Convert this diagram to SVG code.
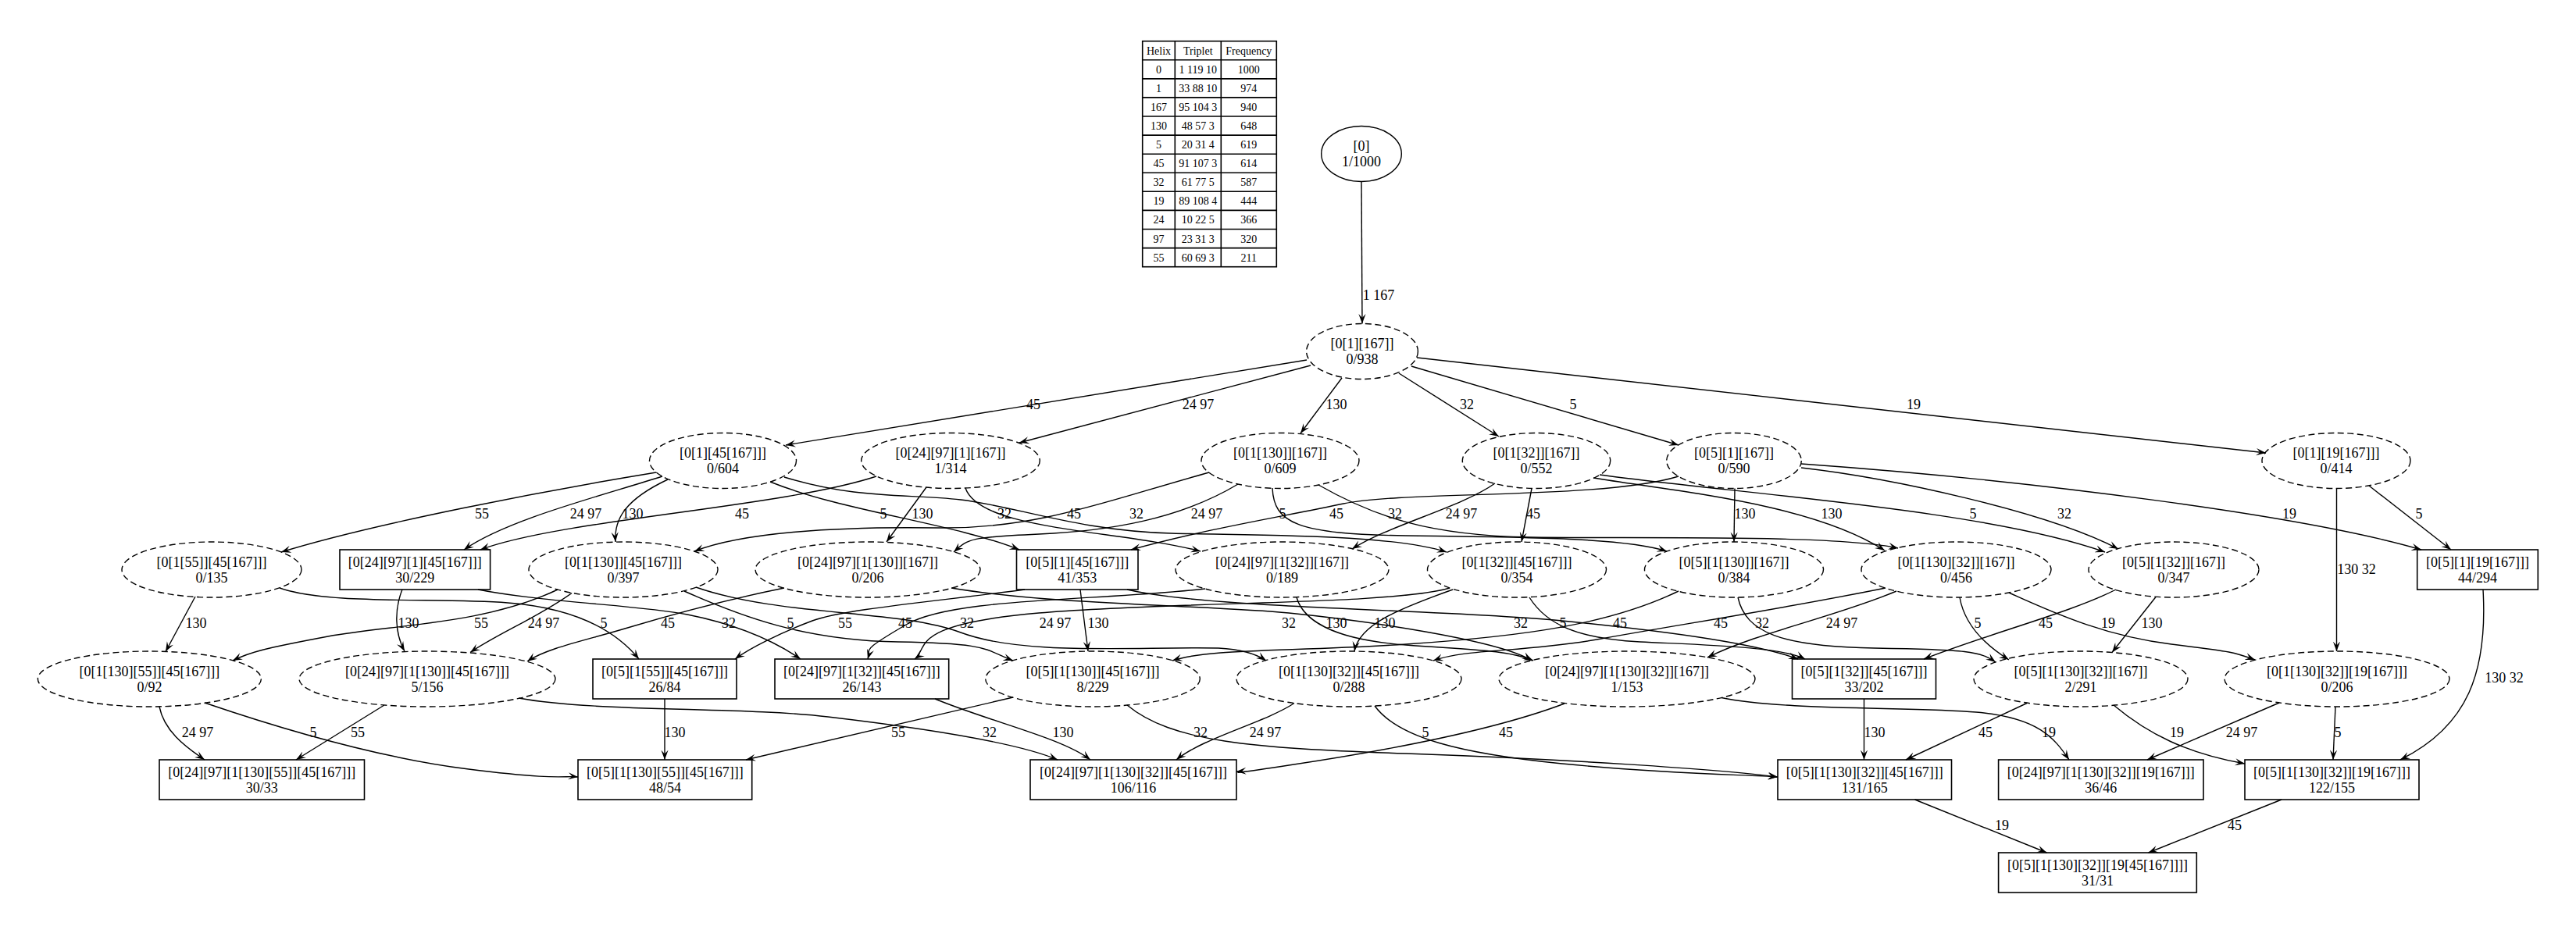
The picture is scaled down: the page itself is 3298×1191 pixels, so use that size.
<svg xmlns="http://www.w3.org/2000/svg" width="3298" height="1191" viewBox="0 0 3298 1191">
<defs>
<marker id="vee" viewBox="0 0 12.5 10" refX="12.5" refY="5" markerWidth="12.5" markerHeight="10" markerUnits="userSpaceOnUse" orient="auto">
<path d="M0,0.4 L12.5,5 L0,9.6 L5,5 Z" fill="#000"/>
</marker>
</defs>
<style>
.n{fill:none;stroke:#000;stroke-width:1.4;stroke-dasharray:8 4.5}
.s{fill:none;stroke:#000;stroke-width:1.4}
.b{fill:none;stroke:#000;stroke-width:1.6}
.g{stroke:#000;stroke-width:1.6;fill:none}
text{font-family:"Liberation Serif","Times New Roman",serif;font-size:18px;text-anchor:middle;fill:#000}
.tb text{font-size:14px}
#edges path{fill:none;stroke:#000;stroke-width:1.4;marker-end:url(#vee)}
</style>
<rect width="3298" height="1191" fill="#fff"/>

<!-- helix legend table -->
<g id="legend" class="tb">
<rect class="g" x="1462.7" y="52.7" width="171.6" height="289"/>
<path class="g" d="M1504.3,52.7V341.7M1563.3,52.7V341.7M1462.7,76.8H1634.3M1462.7,100.9H1634.3M1462.7,124.9H1634.3M1462.7,149H1634.3M1462.7,173.1H1634.3M1462.7,197.2H1634.3M1462.7,221.3H1634.3M1462.7,245.3H1634.3M1462.7,269.4H1634.3M1462.7,293.5H1634.3M1462.7,317.6H1634.3"/>
<text x="1483.5" y="69.7">Helix</text><text x="1533.8" y="69.7">Triplet</text><text x="1598.8" y="69.7">Frequency</text>
<text x="1483.5" y="93.8">0</text><text x="1533.8" y="93.8">1 119 10</text><text x="1598.8" y="93.8">1000</text>
<text x="1483.5" y="117.9">1</text><text x="1533.8" y="117.9">33 88 10</text><text x="1598.8" y="117.9">974</text>
<text x="1483.5" y="141.9">167</text><text x="1533.8" y="141.9">95 104 3</text><text x="1598.8" y="141.9">940</text>
<text x="1483.5" y="166">130</text><text x="1533.8" y="166">48 57 3</text><text x="1598.8" y="166">648</text>
<text x="1483.5" y="190.1">5</text><text x="1533.8" y="190.1">20 31 4</text><text x="1598.8" y="190.1">619</text>
<text x="1483.5" y="214.2">45</text><text x="1533.8" y="214.2">91 107 3</text><text x="1598.8" y="214.2">614</text>
<text x="1483.5" y="238.3">32</text><text x="1533.8" y="238.3">61 77 5</text><text x="1598.8" y="238.3">587</text>
<text x="1483.5" y="262.3">19</text><text x="1533.8" y="262.3">89 108 4</text><text x="1598.8" y="262.3">444</text>
<text x="1483.5" y="286.4">24</text><text x="1533.8" y="286.4">10 22 5</text><text x="1598.8" y="286.4">366</text>
<text x="1483.5" y="310.5">97</text><text x="1533.8" y="310.5">23 31 3</text><text x="1598.8" y="310.5">320</text>
<text x="1483.5" y="334.6">55</text><text x="1533.8" y="334.6">60 69 3</text><text x="1598.8" y="334.6">211</text>
</g>

<!-- nodes -->
<g id="R"><ellipse class="s" cx="1743" cy="197" rx="51.3" ry="35.5"/><text x="1743" y="193">[0]</text><text x="1743" y="213">1/1000</text></g>
<g id="A"><ellipse class="n" cx="1744" cy="450" rx="71.4" ry="35.5"/><text x="1744" y="446">[0[1][167]]</text><text x="1744" y="466">0/938</text></g>

<g id="B1"><ellipse class="n" cx="925.5" cy="590" rx="94" ry="35.5"/><text x="925.5" y="586">[0[1][45[167]]]</text><text x="925.5" y="606">0/604</text></g>
<g id="B2"><ellipse class="n" cx="1217" cy="590" rx="114.3" ry="35.5"/><text x="1217" y="586">[0[24][97][1][167]]</text><text x="1217" y="606">1/314</text></g>
<g id="B3"><ellipse class="n" cx="1639" cy="590" rx="101" ry="35.5"/><text x="1639" y="586">[0[1[130]][167]]</text><text x="1639" y="606">0/609</text></g>
<g id="B4"><ellipse class="n" cx="1967" cy="590" rx="94.7" ry="35.5"/><text x="1967" y="586">[0[1[32]][167]]</text><text x="1967" y="606">0/552</text></g>
<g id="B5"><ellipse class="n" cx="2220" cy="590" rx="86.3" ry="35.5"/><text x="2220" y="586">[0[5][1][167]]</text><text x="2220" y="606">0/590</text></g>
<g id="B6"><ellipse class="n" cx="2991" cy="590" rx="95" ry="35.5"/><text x="2991" y="586">[0[1][19[167]]]</text><text x="2991" y="606">0/414</text></g>

<g id="C1"><ellipse class="n" cx="271" cy="729.5" rx="115" ry="35.5"/><text x="271" y="725.5">[0[1[55]][45[167]]]</text><text x="271" y="745.5">0/135</text></g>
<g id="C2"><rect class="b" x="435" y="704" width="192.6" height="51"/><text x="531.3" y="725.5">[0[24][97][1][45[167]]]</text><text x="531.3" y="745.5">30/229</text></g>
<g id="C3"><ellipse class="n" cx="798" cy="729.5" rx="121" ry="35.5"/><text x="798" y="725.5">[0[1[130]][45[167]]]</text><text x="798" y="745.5">0/397</text></g>
<g id="C4"><ellipse class="n" cx="1111" cy="729.5" rx="144" ry="35.5"/><text x="1111" y="725.5">[0[24][97][1[130]][167]]</text><text x="1111" y="745.5">0/206</text></g>
<g id="C5"><rect class="b" x="1301.5" y="704" width="155.5" height="51"/><text x="1379.3" y="725.5">[0[5][1][45[167]]]</text><text x="1379.3" y="745.5">41/353</text></g>
<g id="C6"><ellipse class="n" cx="1641.5" cy="729.5" rx="136.5" ry="35.5"/><text x="1641.5" y="725.5">[0[24][97][1[32]][167]]</text><text x="1641.5" y="745.5">0/189</text></g>
<g id="C7"><ellipse class="n" cx="1942" cy="729.5" rx="114.5" ry="35.5"/><text x="1942" y="725.5">[0[1[32]][45[167]]]</text><text x="1942" y="745.5">0/354</text></g>
<g id="C8"><ellipse class="n" cx="2220" cy="729.5" rx="114.5" ry="35.5"/><text x="2220" y="725.5">[0[5][1[130]][167]]</text><text x="2220" y="745.5">0/384</text></g>
<g id="C9"><ellipse class="n" cx="2504.5" cy="729.5" rx="121.5" ry="35.5"/><text x="2504.5" y="725.5">[0[1[130][32]][167]]</text><text x="2504.5" y="745.5">0/456</text></g>
<g id="C10"><ellipse class="n" cx="2783" cy="729.5" rx="109" ry="35.5"/><text x="2783" y="725.5">[0[5][1[32]][167]]</text><text x="2783" y="745.5">0/347</text></g>
<g id="C11"><rect class="b" x="3094.7" y="704" width="154.6" height="51"/><text x="3172" y="725.5">[0[5][1][19[167]]]</text><text x="3172" y="745.5">44/294</text></g>

<g id="D1"><ellipse class="n" cx="191.4" cy="869.5" rx="143" ry="35.5"/><text x="191.4" y="865.5">[0[1[130][55]][45[167]]]</text><text x="191.4" y="885.5">0/92</text></g>
<g id="D2"><ellipse class="n" cx="547" cy="869.5" rx="164" ry="35.5"/><text x="547" y="865.5">[0[24][97][1[130]][45[167]]]</text><text x="547" y="885.5">5/156</text></g>
<g id="D3"><rect class="b" x="759" y="844" width="184" height="51"/><text x="851" y="865.5">[0[5][1[55]][45[167]]]</text><text x="851" y="885.5">26/84</text></g>
<g id="D4"><rect class="b" x="992" y="844" width="222.7" height="51"/><text x="1103.4" y="865.5">[0[24][97][1[32]][45[167]]]</text><text x="1103.4" y="885.5">26/143</text></g>
<g id="D5"><ellipse class="n" cx="1399" cy="869.5" rx="137.3" ry="35.5"/><text x="1399" y="865.5">[0[5][1[130]][45[167]]]</text><text x="1399" y="885.5">8/229</text></g>
<g id="D6"><ellipse class="n" cx="1727" cy="869.5" rx="144" ry="35.5"/><text x="1727" y="865.5">[0[1[130][32]][45[167]]]</text><text x="1727" y="885.5">0/288</text></g>
<g id="D7"><ellipse class="n" cx="2083" cy="869.5" rx="164" ry="35.5"/><text x="2083" y="865.5">[0[24][97][1[130][32]][167]]</text><text x="2083" y="885.5">1/153</text></g>
<g id="D8"><rect class="b" x="2294.5" y="844" width="184" height="51"/><text x="2386.5" y="865.5">[0[5][1[32]][45[167]]]</text><text x="2386.5" y="885.5">33/202</text></g>
<g id="D9"><ellipse class="n" cx="2664" cy="869.5" rx="137" ry="35.5"/><text x="2664" y="865.5">[0[5][1[130][32]][167]]</text><text x="2664" y="885.5">2/291</text></g>
<g id="D10"><ellipse class="n" cx="2992" cy="869.5" rx="144" ry="35.5"/><text x="2992" y="865.5">[0[1[130][32]][19[167]]]</text><text x="2992" y="885.5">0/206</text></g>

<g id="E1"><rect class="b" x="204" y="973" width="262.5" height="51"/><text x="335.3" y="994.5">[0[24][97][1[130][55]][45[167]]]</text><text x="335.3" y="1014.5">30/33</text></g>
<g id="E2"><rect class="b" x="740" y="973" width="222.7" height="51"/><text x="851.4" y="994.5">[0[5][1[130][55]][45[167]]]</text><text x="851.4" y="1014.5">48/54</text></g>
<g id="E3"><rect class="b" x="1319" y="973" width="264" height="51"/><text x="1451" y="994.5">[0[24][97][1[130][32]][45[167]]]</text><text x="1451" y="1014.5">106/116</text></g>
<g id="E4"><rect class="b" x="2276" y="973" width="222.5" height="51"/><text x="2387.3" y="994.5">[0[5][1[130][32]][45[167]]]</text><text x="2387.3" y="1014.5">131/165</text></g>
<g id="E5"><rect class="b" x="2558.6" y="973" width="262.4" height="51"/><text x="2689.8" y="994.5">[0[24][97][1[130][32]][19[167]]]</text><text x="2689.8" y="1014.5">36/46</text></g>
<g id="E6"><rect class="b" x="2874" y="973" width="223" height="51"/><text x="2985.5" y="994.5">[0[5][1[130][32]][19[167]]]</text><text x="2985.5" y="1014.5">122/155</text></g>

<g id="F1"><rect class="b" x="2558.6" y="1092" width="253.7" height="51"/><text x="2685.5" y="1113.5">[0[5][1[130][32]][19[45[167]]]]</text><text x="2685.5" y="1133.5">31/31</text></g>

<!-- connectors, labelled with the helices each step adds -->
<g id="edges">
<path d="M1743,232.5 L1744,414.5"/><text x="1765" y="384">1 167</text>

<path d="M1673,461 L1006,570"/><text x="1323" y="524">45</text>
<path d="M1678,468 L1305,567"/><text x="1534" y="524">24 97</text>
<path d="M1718,484 L1665,555"/><text x="1711" y="524">130</text>
<path d="M1791,478 L1919,559"/><text x="1878" y="524">32</text>
<path d="M1807,469 L2149,570"/><text x="2014" y="524">5</text>
<path d="M1814,458 L2901,580"/><text x="2450" y="524">19</text>

<path d="M840,605 C700,628 480,670 360,707"/><text x="617" y="664">55</text>
<path d="M848,610 C770,635 650,665 594,704"/><text x="750" y="664">24 97</text>
<path d="M855,614 C800,640 786,665 788,694"/><text x="810" y="664">130</text>
<path d="M1122,610 C1000,650 720,665 615,704"/><text x="950" y="664">45</text>
<path d="M986,617 C1080,655 1220,670 1305,704"/><text x="1131" y="664">5</text>
<path d="M1186,624 L1135,694"/><text x="1181" y="664">130</text>
<path d="M1236,625 C1255,680 1430,678 1537,706"/><text x="1286" y="664">32</text>
<path d="M1548,605 C1420,640 1330,678 1200,676 S950,682 889,706"/><text x="1375" y="664">45</text>
<path d="M1004,611 C1100,640 1160,632 1230,640 S1380,680 1500,683 S1780,684 1852,707"/><text x="1455" y="664">32</text>
<path d="M1585,620 C1510,665 1420,680 1330,684 S1240,690 1221,707"/><text x="1545" y="664">24 97</text>
<path d="M1629,625 C1631,670 1660,684 1800,686 S2080,688 2134,706"/><text x="1642" y="664">5</text>
<path d="M2149,610 C2050,640 1800,628 1720,645 S1550,676 1448,704"/><text x="1711" y="664">45</text>
<path d="M1688,621 C1760,662 1830,686 1960,688 S2350,684 2430,702"/><text x="1786" y="664">32</text>
<path d="M1914,619 C1870,650 1780,672 1731,703"/><text x="1871" y="664">24 97</text>
<path d="M1961,625.5 L1948,694"/><text x="1963" y="664">45</text>
<path d="M2221,625.5 L2220,694"/><text x="2234" y="664">130</text>
<path d="M2040,612 C2150,630 2320,645 2413,705"/><text x="2345" y="664">130</text>
<path d="M2048,608 C2220,632 2540,652 2695,707"/><text x="2526" y="664">5</text>
<path d="M2306,599 C2420,612 2620,655 2712,703"/><text x="2643" y="664">32</text>
<path d="M2306,594 C2600,615 2950,660 3100,704"/><text x="2931" y="664">19</text>
<path d="M3033,622 L3138,704"/><text x="3097" y="664">5</text>
<path d="M2991.5,625.5 L2991.5,834"/><text x="3017" y="735">130 32</text>

<path d="M250,764 L212,834.5"/><text x="251" y="804">130</text>
<path d="M358,753 C420,775 560,765 650,772 S790,810 818,844"/><text x="773" y="804">5</text>
<path d="M515,755 C505,780 505,810 518,834"/><text x="523" y="804">130</text>
<path d="M612,755 C700,772 820,775 880,787 S990,820 1025,844"/><text x="933" y="804">32</text>
<path d="M714,755 C620,800 500,800 420,815 S320,835 298,846"/><text x="616" y="804">55</text>
<path d="M732,759.5 C690,790 640,810 602,835.5"/><text x="696" y="804">24 97</text>
<path d="M876,757 C950,790 1030,820 1150,822 S1260,832 1297,846"/><text x="1012" y="804">5</text>
<path d="M891,752 C1000,790 1150,780 1230,810 S1450,828 1560,830 Q1600,832 1621,846"/><text x="1238" y="804">32</text>
<path d="M1004,753 C920,770 850,790 800,805 S700,830 675,847"/><text x="855" y="804">45</text>
<path d="M1218,753 C1350,775 1550,775 1650,785 S1920,820 1961,846"/><text x="1650" y="804">32</text>
<path d="M1312,755 C1200,770 1080,780 1040,795 S960,830 941,844"/><text x="1082" y="804">55</text>
<path d="M1383,755 L1393,834"/><text x="1406" y="804">130</text>
<path d="M1443,755 C1550,780 1850,780 2000,795 S2250,825 2302,844"/><text x="1947" y="804">32</text>
<path d="M1543,754 C1400,770 1220,765 1160,800 S1115,830 1111,844"/><text x="1159" y="804">45</text>
<path d="M1660,765 C1670,800 1720,820 1800,826 S1930,832 1963,846"/><text x="1711" y="804">130</text>
<path d="M1856,753 C1780,775 1500,770 1330,785 S1190,830 1171,844"/><text x="1351" y="804">24 97</text>
<path d="M1860,755 C1790,780 1740,800 1734,834"/><text x="1773" y="804">130</text>
<path d="M1958,765 C1980,800 2020,818 2100,822 S2280,828 2311,844"/><text x="2001" y="804">5</text>
<path d="M2149,757 C2060,800 1950,815 1800,825 S1550,830 1501,846"/><text x="2074" y="804">45</text>
<path d="M2225,765 C2235,810 2280,828 2400,830 S2535,834 2555,848"/><text x="2256" y="804">32</text>
<path d="M2414,753 C2280,780 2150,800 2050,818 S1880,830 1835,846"/><text x="2203" y="804">45</text>
<path d="M2428,757 C2350,790 2250,810 2186,842"/><text x="2358" y="804">24 97</text>
<path d="M2509,765 C2515,800 2540,825 2572,845"/><text x="2532" y="804">5</text>
<path d="M2572,759 C2640,790 2700,815 2780,825 S2860,835 2887,845"/><text x="2699" y="804">19</text>
<path d="M2709,755 C2650,785 2550,810 2463,844"/><text x="2619" y="804">45</text>
<path d="M2760,764.5 L2704,835.5"/><text x="2755" y="804">130</text>

<path d="M204,905 C210,935 235,955 262,973"/><text x="253" y="944">24 97</text>
<path d="M262,900 C350,930 480,970 600,985 S720,993 740,995"/><text x="401" y="944">5</text>
<path d="M492,903 L379,973"/><text x="458" y="944">55</text>
<path d="M664,894 C760,912 950,905 1060,918 S1300,950 1354,973"/><text x="1267" y="944">32</text>
<path d="M851,895 L851,973"/><text x="864" y="944">130</text>
<path d="M1197,895 C1270,925 1360,945 1396,973"/><text x="1361" y="944">130</text>
<path d="M1297,893 L955,973"/><text x="1150" y="944">55</text>
<path d="M1443,903 C1500,950 1600,958 1800,965 S2200,985 2276,995"/><text x="1537" y="944">32</text>
<path d="M1657,900.5 C1620,925 1540,945 1506,973"/><text x="1620" y="944">24 97</text>
<path d="M1760,904 C1790,945 1870,965 2000,978 S2230,992 2276,995"/><text x="1825" y="944">5</text>
<path d="M2003,901 C1900,940 1750,965 1650,980 S1600,987 1583,988"/><text x="1928" y="944">45</text>
<path d="M2204,893.5 C2280,910 2450,905 2530,912 S2630,945 2649,973"/><text x="2623" y="944">19</text>
<path d="M2386.5,895 L2386.5,973"/><text x="2400" y="944">130</text>
<path d="M2595,900.5 L2440,973"/><text x="2542" y="944">45</text>
<path d="M2706,903 C2750,940 2800,965 2874,978"/><text x="2787" y="944">19</text>
<path d="M2918,900 L2749,973"/><text x="2870" y="944">24 97</text>
<path d="M2990,905 L2987,973"/><text x="2993" y="944">5</text>
<path d="M3179,755 C3185,860 3160,930 3073,973"/><text x="3206" y="874">130 32</text>

<path d="M2451.5,1024 L2620.5,1092"/><text x="2563" y="1063">19</text>
<path d="M2921,1024 L2750.5,1092"/><text x="2861" y="1063">45</text>
</g>
</svg>
